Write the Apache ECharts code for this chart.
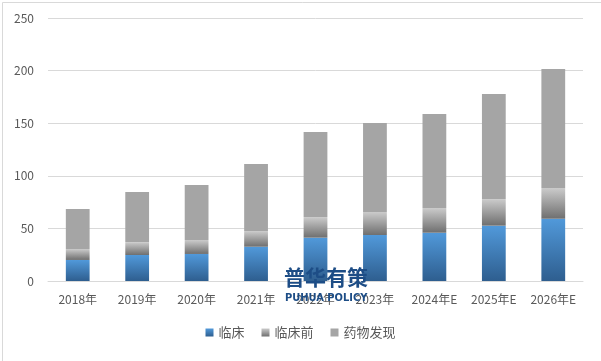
<!DOCTYPE html>
<html><head><meta charset="utf-8">
<script src="https://cdn.jsdelivr.net/npm/echarts@6/dist/echarts.min.js"></script>
<style>html,body{margin:0;padding:0;background:#fff}#c{width:601px;height:361px}</style>
</head><body><div id="c"></div>
<script>
const categories = ['2018年','2019年','2020年','2021年','2022年','2023年','2024年E','2025年E','2026年E'];
const clinical = [20.0, 24.7, 25.7, 32.6, 41.2, 43.7, 45.9, 52.6, 59.2];
const preclinical = [10.4, 12.3, 13.3, 14.9, 19.6, 21.9, 23.5, 25.3, 29.2];
const discovery = [38.0, 47.6, 52.3, 63.7, 80.8, 84.6, 89.3, 99.9, 113.1];
const seriesNames = ['临床','临床前','药物发现'];
const yTicks = {min:0, max:250, interval:50};

const font = '"Microsoft YaHei","Noto Sans CJK SC",sans-serif';
const blueGrad = new echarts.graphic.LinearGradient(0,0,0,1,[{offset:0,color:'#5199DA'},{offset:1,color:'#2E5E8F'}]);
const grayGrad = new echarts.graphic.LinearGradient(0,0,0,1,[{offset:0,color:'#CBCBCB'},{offset:1,color:'#6F6F6F'}]);
const chart = echarts.init(document.getElementById('c'));
chart.setOption({
  animation:false,
  backgroundColor:'#fff',
  grid:{left:48,right:18,top:18,bottom:80,containLabel:false},
  legend:{bottom:17,left:'center',itemWidth:8,itemHeight:8,itemGap:17,icon:'rect',
    textStyle:{color:'#595959',fontSize:13,fontFamily:font},
    data:seriesNames},
  xAxis:{type:'category',data:categories,
    axisLine:{lineStyle:{color:'#D9D9D9'}},axisTick:{show:false},
    axisLabel:{color:'#595959',fontSize:12,margin:12,fontFamily:font,interval:0}},
  yAxis:{type:'value',min:yTicks.min,max:yTicks.max,interval:yTicks.interval,
    axisLine:{show:false},axisTick:{show:false},
    splitLine:{lineStyle:{color:'#D9D9D9'}},
    axisLabel:{color:'#595959',fontSize:12,margin:14,fontFamily:font}},
  series:[
    {name:seriesNames[0],type:'bar',stack:'a',data:clinical,barWidth:'40%',itemStyle:{color:blueGrad}},
    {name:seriesNames[1],type:'bar',stack:'a',data:preclinical,itemStyle:{color:grayGrad}},
    {name:seriesNames[2],type:'bar',stack:'a',data:discovery,itemStyle:{color:'#A5A5A5'}}
  ],
  graphic:[
    {type:'rect',left:0,top:0,shape:{width:600,height:360},style:{fill:'none',stroke:'#D9D9D9',lineWidth:1},z:-1,silent:true},
    {type:'text',left:284,top:267,z:100,style:{text:'普华有策',font:'bold 21px "Noto Sans CJK SC",sans-serif',fill:'#1D4D86'}},
    {type:'text',left:285,top:293,z:100,style:{text:'PUHUA POLICY',font:'bold 11px "DejaVu Sans Condensed","Liberation Sans Narrow",sans-serif',fill:'#1D4D86'}}
  ]
});
</script></body></html>
